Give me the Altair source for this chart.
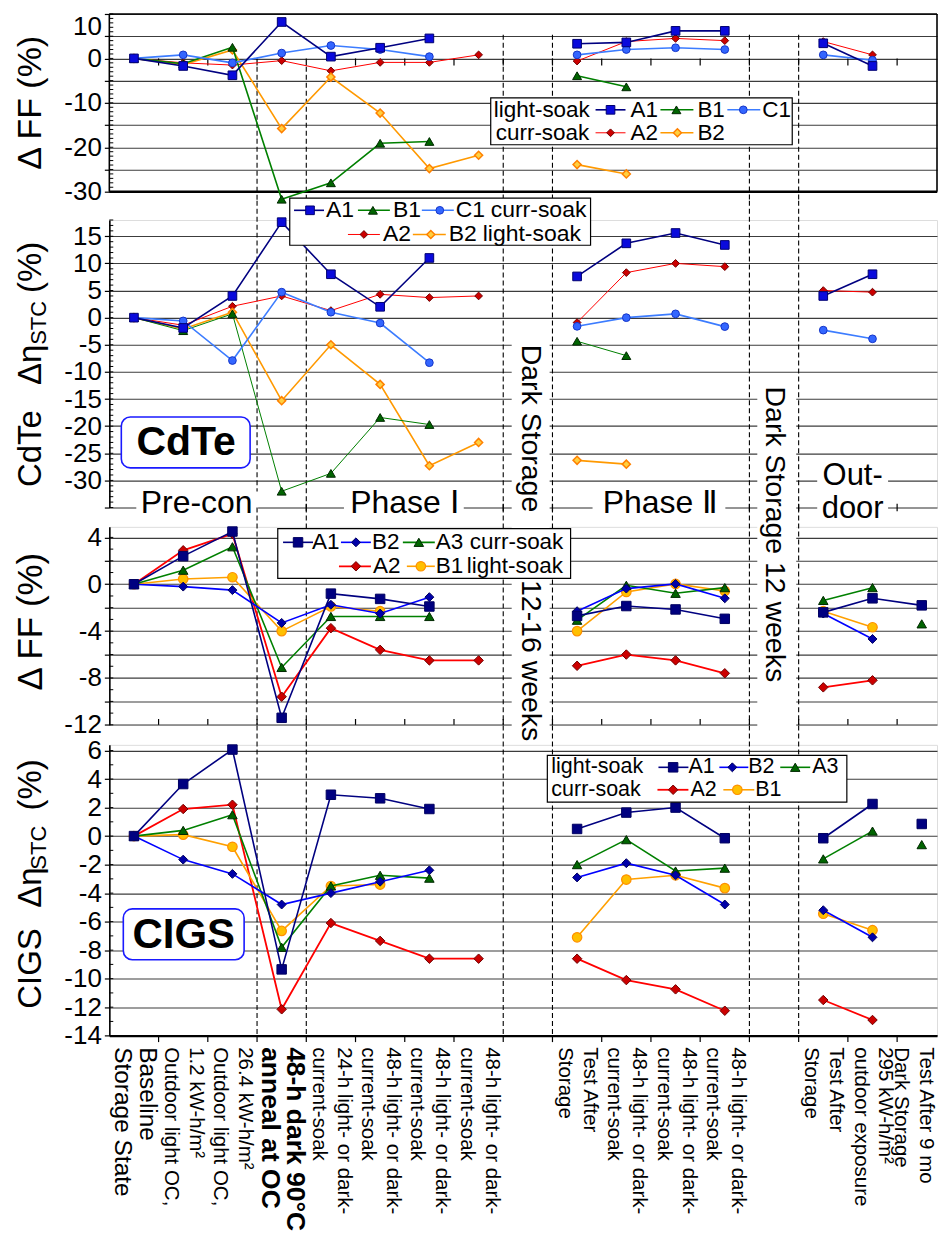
import json
import altair as alt
import pandas as pd

FONT = "Liberation Sans"

# ---------------- data ----------------
STEP_X = [0, 1, 2, 3, 4, 5, 6, 7, 9, 10, 11, 12, 14, 15, 16]
SEG_DEFAULT = [0, 0, 0, 0, 0, 0, 0, 0, 1, 1, 1, 1, 2, 2, 3]
SEG_END_LINKED = [0, 0, 0, 0, 0, 0, 0, 0, 1, 1, 1, 1, 2, 2, 2]

STEP_LABELS = [
    ["Baseline", "Storage State"],
    ["1.2 kW-h/m²", "Outdoor light OC,"],
    ["26.4 kW-h/m²", "Outdoor light OC,"],
    ["48-h dark 90°C", "anneal at OC"],
    ["24-h light- or dark-", "current-soak"],
    ["48-h light- or dark-", "current-soak"],
    ["48-h light- or dark-", "current-soak"],
    ["48-h light- or dark-", "current-soak"],
    ["Test After", "Storage"],
    ["48-h light- or dark-", "current-soak"],
    ["48-h light- or dark-", "current-soak"],
    ["48-h light- or dark-", "current-soak"],
    ["Test After", "Storage"],
    ["295 kW-h/m²", "outdoor exposure"],
    ["Test After 9 mo", "Dark Storage"],
]

# CdTe, delta FF (%)
CDTE_FF_A1 = [0, -1.7, -3.8, 8.2, 0.4, 2.4, 4.5, None, 3.3, 3.6, 6.2, 6.2, 3.4, -1.7, None]
CDTE_FF_B1 = [0, -1.2, 2.5, -31.7, -28.0, -19.1, -18.7, None, -3.9, -6.4, None, None, None, None, None]
CDTE_FF_C1 = [0, 0.8, -1.0, 1.2, 2.9, 2.0, 0.4, None, 0.8, 2.0, 2.4, 2.0, 0.8, -0.4, None]
CDTE_FF_A2 = [0, -1.0, -1.5, -0.5, -2.8, -0.9, -0.9, 0.8, -0.6, 3.8, 4.5, 4.0, 3.8, 0.8, None]
CDTE_FF_B2 = [0, -1.4, 1.9, -15.8, -4.2, -12.3, -24.8, -21.8, -23.9, -26.0, None, None, None, None, None]

# CdTe, delta eta_STC (%)
CDTE_EFF_A1 = [0, -1.9, 4.0, 17.6, 8.0, 2.0, 11.0, None, 7.6, 13.7, 15.6, 13.4, 4.0, 8.0, None]
CDTE_EFF_B1 = [0, -2.4, 0.7, -32.0, -28.7, -18.4, -19.7, None, -4.35, -7.0, None, None, None, None, None]
CDTE_EFF_C1 = [0, -0.6, -7.9, 4.7, 1.0, -1.0, -8.3, None, -1.6, 0.0, 0.7, -1.65, -2.3, -3.9, None]
CDTE_EFF_A2 = [0, -1.4, 2.1, 4.0, 1.3, 4.3, 3.7, 4.0, -0.9, 8.3, 10.0, 9.4, 5.0, 4.7, None]
CDTE_EFF_B2 = [0, -2.1, 1.0, -15.3, -5.0, -12.3, -27.3, -23.0, -26.3, -27.0, None, None, None, None, None]

# CIGS, delta FF (%)
CIGS_FF_A1 = [0, 2.4, 4.5, -11.4, -0.8, -1.25, -1.9, None, -2.7, -1.86, -2.15, -2.95, -2.4, -1.2, -1.8]
CIGS_FF_B2 = [0, -0.2, -0.5, -3.3, -1.75, -2.5, -1.1, None, -2.3, -0.37, 0.03, -1.2, -2.5, -4.67, None]
CIGS_FF_A3 = [0, 1.2, 3.2, -7.1, -2.75, -2.75, -2.75, None, -3.07, -0.09, -0.77, -0.29, -1.38, -0.29, -3.38]
CIGS_FF_A2 = [0, 2.9, 4.3, -9.6, -3.75, -5.6, -6.5, -6.5, -6.96, -6.0, -6.5, -7.6, -8.8, -8.2, None]
CIGS_FF_B1 = [0, 0.45, 0.6, -4.0, -1.9, -2.3, None, None, -4.0, -0.66, 0.03, -0.57, -2.3, -3.67, None]

# CIGS, delta eta_STC (%)
CIGS_EFF_A1 = [0, 3.65, 6.07, -9.35, 2.9, 2.65, 1.9, None, 0.5, 1.65, 2.0, -0.15, -0.15, 2.25, 0.85]
CIGS_EFF_B2 = [0, -1.65, -2.65, -4.8, -4.0, -3.2, -2.4, None, -2.9, -1.9, -2.75, -4.8, -5.2, -7.1, None]
CIGS_EFF_A3 = [0, 0.4, 1.5, -7.8, -3.5, -2.75, -2.95, None, -2.0, -0.25, -2.45, -2.25, -1.6, 0.35, -0.6]
CIGS_EFF_A2 = [0, 1.9, 2.2, -12.15, -6.1, -7.35, -8.6, -8.6, -8.6, -10.1, -10.75, -12.25, -11.5, -12.9, None]
CIGS_EFF_B1 = [0, 0.1, -0.75, -6.65, -3.5, -3.4, None, None, -7.1, -3.05, -2.75, -3.65, -5.45, -6.6, None]

# ---------------- styles ----------------
ST_A1_CDTE = dict(line="#000080", lw=1.6, shape="square", fill="#0A0ADC", stroke="#000070", size=75, sw=1)
ST_B1_CDTE = dict(line="#008000", lw=1.6, shape="triangle-up", fill="#006400", stroke="#002800", size=80, sw=1)
ST_B1_CDTE_THIN = dict(ST_B1_CDTE, lw=1.0)
ST_C1_CDTE = dict(line="#3C7CFF", lw=1.6, shape="circle", fill="#3366FF", stroke="#1535C8", size=60, sw=1)
ST_A2_CDTE = dict(line="#FF0000", lw=1.0, shape="diamond", fill="#CC0000", stroke="#700000", size=60, sw=1)
ST_B2_CDTE = dict(line="#FF9900", lw=1.6, shape="diamond", fill="#FFD040", stroke="#FF8000", size=65, sw=1.5)

ST_A1_CIGS = dict(line="#000080", lw=1.6, shape="square", fill="#000080", stroke="#000060", size=90, sw=1)
ST_B2_CIGS = dict(line="#0000FF", lw=1.6, shape="diamond", fill="#0000A8", stroke="#000060", size=80, sw=1)
ST_A3_CIGS = dict(line="#008000", lw=1.6, shape="triangle-up", fill="#006400", stroke="#002800", size=90, sw=1)
ST_A2_CIGS = dict(line="#FF0000", lw=1.8, shape="diamond", fill="#CC0000", stroke="#700000", size=90, sw=1)
ST_B1_CIGS = dict(line="#FFA000", lw=1.6, shape="circle", fill="#FFC000", stroke="#FF9000", size=90, sw=1.2)

X_RIGHT = 16.31
X_DOMAIN = [-0.5, X_RIGHT]
PLOT_W = 829
GAP = 19.35
HALF_STEPS = [i + 0.5 for i in range(16)]
DASHED_AT = [2.5, 3.5, 7.5, 8.5, 12.5, 13.5]
DASHED_TOP_P1 = [-1.9, -1.9, 5.3, 5.3, 5.3, 5.3]   # where the dashed lines start in the top panel
ONE = pd.DataFrame({"k": [0]})
BLUE_BOX = "#1A1AFF"
TICK_FS = 26


def label_array_expr():
    arr = [""] * 17
    for pos, lab in zip(STEP_X, STEP_LABELS):
        arr[pos] = lab
    return json.dumps(arr, ensure_ascii=False) + "[datum.value]"


def txt(t, px, py, fs, align="center", angle=0, weight="normal", baseline="middle", color="black"):
    return alt.Chart(ONE).mark_text(
        text=t, font=FONT, fontSize=fs, align=align, baseline=baseline,
        angle=angle, fontWeight=weight, color=color
    ).encode(x=alt.value(px), y=alt.value(py))


def box(x1, x2, y1, y2, stroke=None, sw=1.2, radius=0):
    kw = dict(fill="white")
    if stroke:
        kw.update(stroke=stroke, strokeWidth=sw)
    if radius:
        kw.update(cornerRadius=radius)
    return alt.Chart(ONE).mark_rect(**kw).encode(
        x=alt.value(x1), x2=alt.value(x2), y=alt.value(y1), y2=alt.value(y2))


def glyph(st, x1, x2, mx, py):
    r = alt.Chart(ONE).mark_rule(color=st["line"], strokeWidth=st["lw"]).encode(
        x=alt.value(x1), x2=alt.value(x2), y=alt.value(py))
    p = alt.Chart(ONE).mark_point(
        shape=st["shape"], filled=True, fill=st["fill"], stroke=st["stroke"],
        strokeWidth=st["sw"], size=st["size"], opacity=1
    ).encode(x=alt.value(mx), y=alt.value(py))
    return [r, p]


def legend(bx, texts, entries, fs):
    L = [box(*bx, stroke="black", sw=1.2)]
    for t, px, py in texts:
        L.append(txt(t, px, py, fs, align="left"))
    for st, x1, x2, mx, py, name, tx in entries:
        L += glyph(st, x1, x2, mx, py)
        L.append(txt(name, tx, py, fs, align="left"))
    return L


def panel(series, ydomain, height, grid_vals, label_expr, tick_y, tick_y2,
          minor_vals, label_fs, under=(), over=(), xaxis=None, top_label=None,
          own_frame=None):
    xs = alt.Scale(domain=X_DOMAIN, nice=False, zero=False)
    ys = alt.Scale(domain=ydomain, nice=False, zero=False)
    axis_kw = dict(
        values=grid_vals, labelExpr=label_expr, grid=True, gridColor="#3C3C3C",
        gridWidth=1.1, domain=own_frame is None, domainColor="black", domainWidth=1.6,
        tickColor="black", tickSize=5, tickWidth=1.2, labelFont=FONT, labelFontSize=label_fs,
        labelColor="black", labelPadding=3, title=None,
    )
    if top_label is not None:
        axis_kw["labelBaseline"] = {"condition": {"test": f"datum.value == {top_label}", "value": "top"},
                                    "value": "middle"}
    yaxis = alt.Axis(**axis_kw)
    X = alt.X("x:Q", scale=xs, axis=xaxis, title=None)
    Y = alt.Y("y:Q", scale=ys, axis=yaxis, title=None)

    layers = []
    if own_frame is not None:
        dashed = pd.DataFrame({"x": DASHED_AT, "y": DASHED_TOP_P1, "y2": [ydomain[0]] * len(DASHED_AT)})
        layers.append(alt.Chart(dashed).mark_rule(color="black", strokeWidth=1.1, strokeDash=[5, 3]).encode(
            x=X, y=Y, y2="y2:Q"))
    else:
        dashed = pd.DataFrame({"x": DASHED_AT})
        layers.append(alt.Chart(dashed).mark_rule(color="black", strokeWidth=1.1, strokeDash=[5, 3]).encode(
            x=X, y=alt.value(-GAP), y2=alt.value(height)))
    minor = pd.DataFrame({"x": [-0.5] * len(minor_vals), "x2": [-0.42] * len(minor_vals), "y": minor_vals})
    layers.append(alt.Chart(minor).mark_rule(color="black", strokeWidth=1).encode(x=X, x2="x2:Q", y=Y))
    ticks = pd.DataFrame({"x": HALF_STEPS, "y": [tick_y] * len(HALF_STEPS), "y2": [tick_y2] * len(HALF_STEPS)})
    layers.append(alt.Chart(ticks).mark_rule(color="black", strokeWidth=1.2).encode(x=X, y=Y, y2="y2:Q"))
    if own_frame is not None:
        lo, hi = own_frame
        fr_top = pd.DataFrame({"x": [-0.5], "x2": [X_RIGHT], "y": [hi]})
        fr_bot = pd.DataFrame({"x": [-0.5], "x2": [X_RIGHT], "y": [lo]})
        layers.append(alt.Chart(fr_top).mark_rule(color="black", strokeWidth=1.5).encode(x=X, x2="x2:Q", y=Y))
        layers.append(alt.Chart(fr_bot).mark_rule(color="black", strokeWidth=2.4).encode(x=X, x2="x2:Q", y=Y))
        fr_v = pd.DataFrame({"x": [-0.5, X_RIGHT], "y": [lo, lo], "y2": [hi, hi]})
        layers.append(alt.Chart(fr_v).mark_rule(color="black", strokeWidth=1.6).encode(x=X, y=Y, y2="y2:Q"))
    layers += list(under)
    for values, segs, st in series:
        rows = [{"x": x, "y": v, "seg": s} for x, v, s in zip(STEP_X, values, segs) if v is not None]
        df = pd.DataFrame(rows)
        layers.append(alt.Chart(df).mark_line(color=st["line"], strokeWidth=st["lw"]).encode(
            x=X, y=Y, detail="seg:N"))
        layers.append(alt.Chart(df).mark_point(
            shape=st["shape"], filled=True, fill=st["fill"], stroke=st["stroke"],
            strokeWidth=st["sw"], size=st["size"], opacity=1).encode(x=X, y=Y))
    layers += list(over)
    ch = alt.layer(*layers).properties(width=PLOT_W, height=height)
    if own_frame is not None:
        ch = ch.properties(view=alt.ViewBackground(strokeOpacity=0))
    return ch


def rng(a, b):
    return list(range(a, b + 1))


# ---------------- panel 1 : CdTe dFF ----------------
P1_SCALE = 178 / 40.0           # px per unit
P1_EXTRA = 27.7 - GAP           # extra gap below panel 1
P1_LOW = -30 - P1_EXTRA / P1_SCALE

p1_over = legend(
    (382, 684, 84, 131),
    [("light-soak", 385, 96), ("curr-soak", 387, 119)],
    [(ST_A1_CDTE, 487, 517, 502, 96, "A1", 522),
     (ST_B1_CDTE, 552, 585, 568, 96, "B1", 589),
     (ST_C1_CDTE, 619, 652, 635, 96, "C1", 654),
     (ST_A2_CDTE, 487, 517, 502, 119, "A2", 522),
     (ST_B2_CDTE, 552, 585, 569, 119, "B2", 589)],
    22.5,
) + [txt("Δ FF (%)", -78, 89, 34, angle=270)]

p1 = panel(
    [(CDTE_FF_A2, SEG_DEFAULT, ST_A2_CDTE), (CDTE_FF_B2, SEG_DEFAULT, ST_B2_CDTE),
     (CDTE_FF_B1, SEG_DEFAULT, ST_B1_CDTE), (CDTE_FF_C1, SEG_DEFAULT, ST_C1_CDTE),
     (CDTE_FF_A1, SEG_DEFAULT, ST_A1_CDTE)],
    [P1_LOW, 10], 178 + P1_EXTRA, list(range(-30, 11, 5)),
    "datum.value % 10 == 0 ? '' + datum.value : ''",
    0, -1.6, rng(-30, 10), TICK_FS, over=p1_over, top_label=10, own_frame=(-30, 10),
)

# ---------------- panel 2 : CdTe d eta ----------------
p2_under = [
    box(403, 441, 117, 298), box(649, 688, 157, 298),
    box(27, 149, 272, 296), box(235, 355, 272, 296), box(484, 617, 272, 296), box(709, 780, 241, 304),
]
p2_over = [
    txt("Pre-con", 87.5, 283.5, 32), txt("Phase Ⅰ", 295.5, 283.5, 32), txt("Phase Ⅱ", 552, 283.5, 32),
    txt("Out-", 744.5, 256, 31), txt("door", 744.5, 289.5, 31),
    txt("Dark Storage", 422, 208.8, 28.5, angle=90),
    box(12, 141, 197.3, 248.3, stroke=BLUE_BOX, sw=1.6, radius=9),
    txt("CdTe", 77, 223, 41, weight="bold"),
    txt("CdTe", -78, 229, 33, angle=270), txt("Δη", -78, 145, 33, angle=270),
    txt("STC", -70, 103, 22, angle=270), txt("(%)", -78, 47.5, 33, angle=270),
] + legend(
    (180.7, 482, -22, 25.3),
    [("curr-soak", 382, -9.7), ("light-soak", 374, 14.5)],
    [(ST_A1_CDTE, 185, 215, 201, -9.7, "A1", 217),
     (ST_B1_CDTE, 249, 281, 264, -9.7, "B1", 284),
     (ST_C1_CDTE, 313, 345, 331, -9.7, "C1", 347),
     (ST_A2_CDTE, 239, 271, 255, 14.5, "A2", 274),
     (ST_B2_CDTE, 304, 337, 322, 14.5, "B2", 340)],
    23,
)
p2 = panel(
    [(CDTE_EFF_A2, SEG_DEFAULT, ST_A2_CDTE), (CDTE_EFF_B2, SEG_DEFAULT, ST_B2_CDTE),
     (CDTE_EFF_B1, SEG_DEFAULT, ST_B1_CDTE_THIN), (CDTE_EFF_C1, SEG_DEFAULT, ST_C1_CDTE),
     (CDTE_EFF_A1, SEG_DEFAULT, ST_A1_CDTE)],
    [-35, 18], 288, list(range(-35, 16, 5)),
    "datum.value >= -30 ? '' + datum.value : ''",
    -34.3, -35.7, rng(-35, 18), TICK_FS, under=p2_under, over=p2_over,
)

# ---------------- panel 3 : CIGS dFF ----------------
p3_under = [box(403, 441, -3, 201), box(649, 688, -3, 201)]
p3_over = [
    txt("12-16 weeks", 422, 134, 28.5, angle=90),
    txt("Dark Storage 12 weeks", 667, 7.5, 28.5, angle=90),
    txt("Δ FF (%)", -78, 95, 35, angle=270),
] + legend(
    (168.7, 462, 1.7, 51.7),
    [("curr-soak", 361, 15.5), ("light-soak", 358, 39.5)],
    [(ST_A1_CIGS, 174, 204, 189, 15.5, "A1", 203),
     (ST_B2_CIGS, 232, 262, 247, 15.5, "B2", 263),
     (ST_A3_CIGS, 294, 326, 310, 15.5, "A3", 327),
     (ST_A2_CIGS, 230, 262, 247, 39.5, "A2", 264),
     (ST_B1_CIGS, 298, 326, 312, 39.5, "B1", 327)],
    22.5,
)
p3 = panel(
    [(CIGS_FF_A2, SEG_DEFAULT, ST_A2_CIGS), (CIGS_FF_B1, SEG_DEFAULT, ST_B1_CIGS),
     (CIGS_FF_A3, SEG_DEFAULT, ST_A3_CIGS), (CIGS_FF_B2, SEG_DEFAULT, ST_B2_CIGS),
     (CIGS_FF_A1, SEG_END_LINKED, ST_A1_CIGS)],
    [-12, 4.9], 198.3, list(range(-12, 5, 2)), "'' + datum.value",
    -12, -11.5, rng(-12, 4), TICK_FS, under=p3_under, over=p3_over,
)

# ---------------- panel 4 : CIGS d eta ----------------
xaxis4 = alt.Axis(
    values=STEP_X, labelExpr=label_array_expr(), labelAngle=90, labelAlign="left",
    labelBaseline="middle", labelFont=FONT, labelColor="black",
    labelFontSize={"condition": [{"test": "datum.value == 0", "value": 24.5},
                                 {"test": "datum.value == 3", "value": 26.5}], "value": 20.5},
    labelFontWeight={"condition": {"test": "datum.value == 3", "value": "bold"}, "value": "normal"},
    labelOffset={"condition": {"test": "datum.value == 16", "value": 4}, "value": 12.5},
    labelLineHeight=25, labelOverlap=False, labelBound=False, labelPadding=11, labelLimit=400,
    ticks=False, tickSize=0, domain=True, domainColor="black", domainWidth=2.2, grid=False, title=None,
)
p4_over = [
    box(14, 135, 164.3, 215.3, stroke=BLUE_BOX, sw=1.6, radius=9),
    txt("CIGS", 74.5, 190, 42, weight="bold"),
    txt("CIGS", -78, 224, 33, angle=270), txt("Δη", -78, 143, 33, angle=270),
    txt("STC", -70, 103, 22, angle=270), txt("(%)", -78, 40, 33, angle=270),
] + legend(
    (438.7, 738.7, 10.6, 57.3),
    [("light-soak", 442.7, 22.5), ("curr-soak", 442.7, 45)],
    [(ST_A1_CIGS, 550, 580, 564.7, 22.5, "A1", 580),
     (ST_B2_CIGS, 611, 640, 624, 22.5, "B2", 640),
     (ST_A3_CIGS, 672, 702, 687, 22.5, "A3", 704),
     (ST_A2_CIGS, 549, 580, 564.7, 45, "A2", 582),
     (ST_B1_CIGS, 615, 646, 629, 45, "B1", 647)],
    21.5,
)
p4 = panel(
    [(CIGS_EFF_A2, SEG_DEFAULT, ST_A2_CIGS), (CIGS_EFF_B1, SEG_DEFAULT, ST_B1_CIGS),
     (CIGS_EFF_A3, SEG_DEFAULT, ST_A3_CIGS), (CIGS_EFF_B2, SEG_DEFAULT, ST_B2_CIGS),
     (CIGS_EFF_A1, SEG_DEFAULT, ST_A1_CIGS)],
    [-14, 6.4], 291.3, list(range(-14, 7, 2)), "'' + datum.value",
    -14, -14.45, rng(-14, 6), TICK_FS, over=p4_over, xaxis=xaxis4,
)

chart = alt.vconcat(p1, p2, p3, p4, spacing=GAP, bounds="flush").properties(
    padding={"left": 5.5, "top": 4, "right": 0, "bottom": 2},
    background="white",
).configure_view(stroke="black", strokeWidth=1.5).configure(font=FONT)

chart.save("out.html", embed_options={"renderer": "svg", "actions": False})
